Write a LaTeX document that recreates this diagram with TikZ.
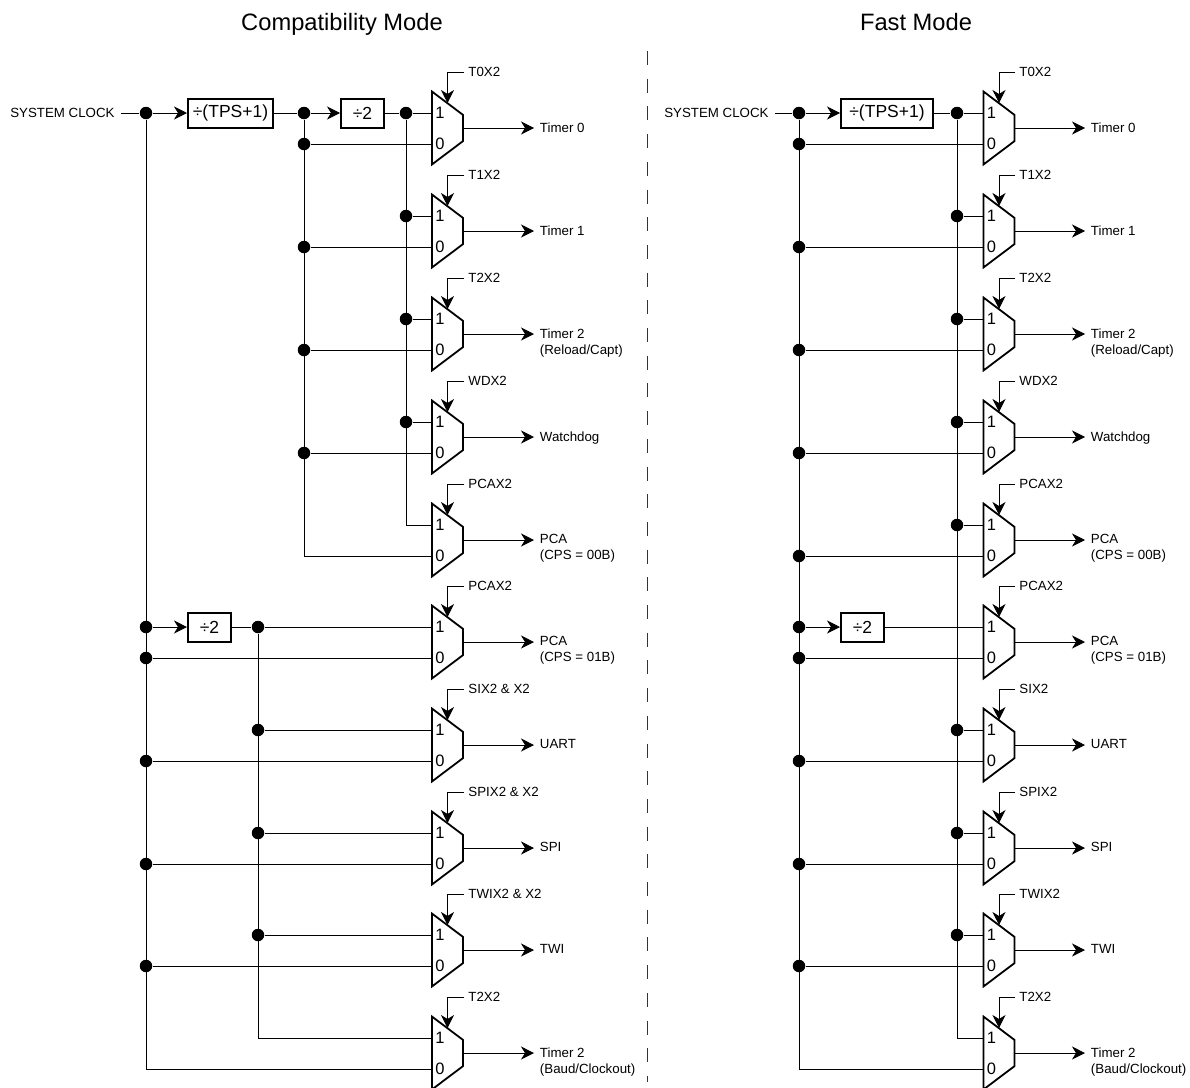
\documentclass[tikz,border=0pt]{standalone}
\usepackage{fontspec}
\setmainfont{Liberation Sans}
\usetikzlibrary{arrows.meta,calc,shapes.geometric}
\begin{document}
\begin{tikzpicture}[x=1pt,y=-1pt,>={Stealth[length=13pt,width=13pt,inset=4pt]},line width=0.9pt,
  every node/.style={align=left,font=\fontsize{13.3}{16}\selectfont,inner sep=0pt},
  title/.style={font=\fontsize{23.7}{26}\selectfont,anchor=base},
  mux/.style={draw,line width=1.8pt,trapezium,trapezium stretches=true,trapezium angle=55,rotate=-90,minimum width=73pt,minimum height=31pt,outer sep=0pt,line join=miter},
  muxpin/.style={font=\fontsize{16.5}{18}\selectfont,anchor=west,inner sep=3pt},
  divbox/.style={draw,line width=2pt,minimum height=29pt,font=\fontsize{17.5}{18}\selectfont},
  dot/.style={circle,fill=black,minimum size=12.5pt},
  sellabel/.style={anchor=west,inner xsep=4pt},
  outlabel/.style={anchor=north west,inner xsep=5.5pt}]
\useasboundingbox (0,0) rectangle (1190,1087);
\clip (0,0) rectangle (1190,1087);
\node[title] (ttla) at (342,30) {Compatibility Mode};
\node[title] (ttlb) at (916,30) {Fast Mode};
\coordinate (sepa) at (647,51);
\coordinate (sepb) at (647,1082);
\draw[dash pattern=on 14pt off 13.7pt,line width=1pt,black!80] (sepa) -- (sepb);
% compatibility mode
\foreach \i/\y/\s/\o in {0/128/T0X2/Timer 0,1/231/T1X2/Timer 1,2/334/T2X2/{Timer 2\\(Reload/Capt)},3/437/WDX2/Watchdog,4/540/PCAX2/{PCA\\(CPS = 00B)},5/642/PCAX2/{PCA\\(CPS = 01B)},6/745/SIX2 \& X2/UART,7/848/SPIX2 \& X2/SPI,8/950/TWIX2 \& X2/TWI,9/1053/T2X2/{Timer 2\\(Baud/Clockout)}}{
  \node[mux] (a\i) at (447.5,\y) {\phantom{0}};
  \node[muxpin] (aone\i) at (432,\y-15) {1};
  \node[muxpin] (azero\i) at (432,\y+16) {0};
  \node[sellabel] (asel\i) at (464,\y-56) {\s};
  \coordinate (atip\i) at (447.5,\y-25);
  \draw[->] (asel\i.west) -| (atip\i);
  \node[outlabel] (aout\i) at (534,\y-6) {\o};
  \draw[->] (a\i.north) -- (a\i.north -| aout\i.west);
}
\node[anchor=east,inner xsep=6pt] (clka) at (121,113) {SYSTEM CLOCK};
\node[dot] (aclk) at (146,113) {};
\node[divbox,anchor=west,minimum width=85pt] (atps) at (187,113) {÷(TPS+1)};
\node[dot] (abus) at (304,113) {};
\node[divbox,anchor=west,minimum width=43pt] (adiv) at (340,113) {÷2};
\node[dot] (afst) at (406,113) {};
\draw (clka) -- (aclk);
\draw[->] (aclk) -- (atps);
\draw (atps) -- (abus);
\draw[->] (abus) -- (adiv);
\draw (adiv) -- (afst) -- (aone0.west);
\draw (aclk) |- (azero9.west);
\draw (abus) |- (azero4.west);
\draw (afst) |- (aone4.west);
\foreach \i in {0,...,3}{
  \node[dot] (abz\i) at (abus |- azero\i.west) {};
  \draw (abz\i) -- (azero\i.west);
}
\foreach \i in {1,2,3}{
  \node[dot] (afo\i) at (afst |- aone\i.west) {};
  \draw (afo\i) -- (aone\i.west);
}
\node[dot] (aclb) at (aclk |- aone5.west) {};
\node[divbox,anchor=west,minimum width=43pt] (advb) at (187,627) {÷2};
\node[dot] (aslo) at (258,627) {};
\draw[->] (aclb) -- (advb);
\draw (advb) -- (aslo) -- (aone5.west);
\draw (aslo) |- (aone9.west);
\foreach \i in {5,...,8}{
  \node[dot] (acz\i) at (aclk |- azero\i.west) {};
  \draw (acz\i) -- (azero\i.west);
}
\foreach \i in {6,7,8}{
  \node[dot] (asl\i) at (aslo |- aone\i.west) {};
  \draw (asl\i) -- (aone\i.west);
}
% fast mode
\foreach \i/\y/\s/\o in {0/128/T0X2/Timer 0,1/231/T1X2/Timer 1,2/334/T2X2/{Timer 2\\(Reload/Capt)},3/437/WDX2/Watchdog,4/540/PCAX2/{PCA\\(CPS = 00B)},5/642/PCAX2/{PCA\\(CPS = 01B)},6/745/SIX2/UART,7/848/SPIX2/SPI,8/950/TWIX2/TWI,9/1053/T2X2/{Timer 2\\(Baud/Clockout)}}{
  \node[mux] (b\i) at (999,\y) {\phantom{0}};
  \node[muxpin] (bone\i) at (983.5,\y-15) {1};
  \node[muxpin] (bzero\i) at (983.5,\y+16) {0};
  \node[sellabel] (bsel\i) at (1015,\y-56) {\s};
  \coordinate (btip\i) at (999,\y-25);
  \draw[->] (bsel\i.west) -| (btip\i);
  \node[outlabel] (bout\i) at (1085,\y-6) {\o};
  \draw[->] (b\i.north) -- (b\i.north -| bout\i.west);
}
\node[anchor=east,inner xsep=6pt] (clkb) at (775,113) {SYSTEM CLOCK};
\node[dot] (bclk) at (799,113) {};
\node[divbox,anchor=west,minimum width=92pt] (btps) at (840,113) {÷(TPS+1)};
\node[dot] (bfst) at (957,113) {};
\draw (clkb) -- (bclk);
\draw[->] (bclk) -- (btps);
\draw (btps) -- (bfst) -- (bone0.west);
\draw (bclk) |- (bzero9.west);
\draw (bfst) |- (bone9.west);
\foreach \i in {0,...,8}{
  \node[dot] (bcz\i) at (bclk |- bzero\i.west) {};
  \draw (bcz\i) -- (bzero\i.west);
}
\foreach \i in {1,2,3,4,6,7,8}{
  \node[dot] (bfo\i) at (bfst |- bone\i.west) {};
  \draw (bfo\i) -- (bone\i.west);
}
\node[dot] (bclb) at (bclk |- bone5.west) {};
\node[divbox,anchor=west,minimum width=43pt] (bdvb) at (840,627) {÷2};
\draw[->] (bclb) -- (bdvb);
\draw (bdvb) -- (bone5.west);
\end{tikzpicture}
\end{document}
